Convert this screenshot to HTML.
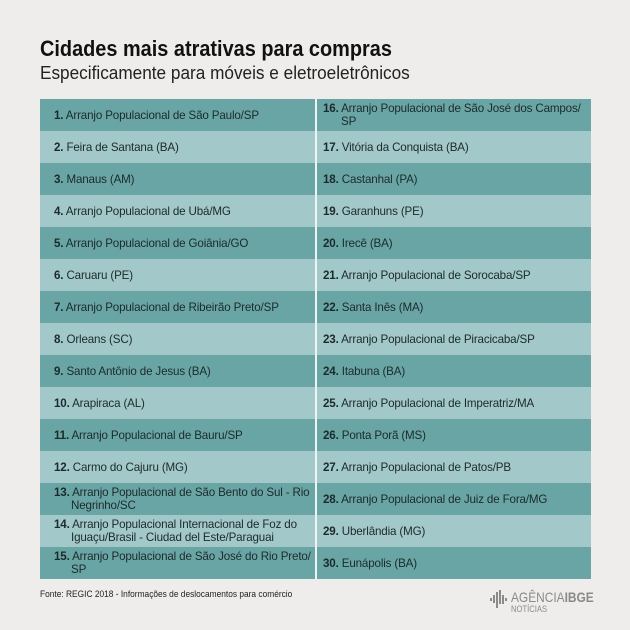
<!DOCTYPE html>
<html><head><meta charset="utf-8"><style>
body{margin:0;width:630px;height:630px;background:#efedeb;font-family:"Liberation Sans",sans-serif;position:relative;overflow:hidden}
.t{position:absolute;left:40px;top:36px;font-weight:bold;font-size:22px;color:#111;transform:scaleX(0.905);transform-origin:0 0;white-space:nowrap}
.s{position:absolute;left:40px;top:63px;font-size:18px;color:#222;transform:scaleX(0.955);transform-origin:0 0;white-space:nowrap}
table{position:absolute;left:40px;top:99px;width:551px;border-collapse:collapse;table-layout:fixed}
td{height:32px;padding:0 0 0 14px;font-size:11.6px;line-height:13px;color:#1b2a2a;box-sizing:border-box;vertical-align:middle;letter-spacing:-0.15px}
td:first-child{width:276px;border-right:2px solid #eef3f3}
td:last-child{padding-left:6px}
tr:nth-child(odd) td{background:#6aa5a6}
tr:nth-child(even) td{background:#a3c8c9}
b{font-weight:bold}
.w{padding-left:17px;text-indent:-17px;display:block}
.w2{padding-left:18px;text-indent:-18px;display:block}
.f{position:absolute;left:40px;top:589px;font-size:9.5px;color:#222;transform:scaleX(0.88);transform-origin:0 0;white-space:nowrap}
.logo{position:absolute;left:490px;top:590px;color:#8a8a8a}
</style></head><body>
<div class="t">Cidades mais atrativas para compras</div>
<div class="s">Especificamente para móveis e eletroeletrônicos</div>
<table>
<tr><td><b>1.</b> Arranjo Populacional de São Paulo/SP</td><td><span class="w2"><b>16.</b> Arranjo Populacional de São José dos Campos/ SP</span></td></tr>
<tr><td><b>2.</b> Feira de Santana (BA)</td><td><b>17.</b> Vitória da Conquista (BA)</td></tr>
<tr><td><b>3.</b> Manaus (AM)</td><td><b>18.</b> Castanhal (PA)</td></tr>
<tr><td><b>4.</b> Arranjo Populacional de Ubá/MG</td><td><b>19.</b> Garanhuns (PE)</td></tr>
<tr><td><b>5.</b> Arranjo Populacional de Goiânia/GO</td><td><b>20.</b> Irecê (BA)</td></tr>
<tr><td><b>6.</b> Caruaru (PE)</td><td><b>21.</b> Arranjo Populacional de Sorocaba/SP</td></tr>
<tr><td><b>7.</b> Arranjo Populacional de Ribeirão Preto/SP</td><td><b>22.</b> Santa Inês (MA)</td></tr>
<tr><td><b>8.</b> Orleans (SC)</td><td><b>23.</b> Arranjo Populacional de Piracicaba/SP</td></tr>
<tr><td><b>9.</b> Santo Antônio de Jesus (BA)</td><td><b>24.</b> Itabuna (BA)</td></tr>
<tr><td><b>10.</b> Arapiraca (AL)</td><td><b>25.</b> Arranjo Populacional de Imperatriz/MA</td></tr>
<tr><td><b>11.</b> Arranjo Populacional de Bauru/SP</td><td><b>26.</b> Ponta Porã (MS)</td></tr>
<tr><td><b>12.</b> Carmo do Cajuru (MG)</td><td><b>27.</b> Arranjo Populacional de Patos/PB</td></tr>
<tr><td><span class="w"><b>13.</b> Arranjo Populacional de São Bento do Sul - Rio<br>Negrinho/SC</span></td><td><b>28.</b> Arranjo Populacional de Juiz de Fora/MG</td></tr>
<tr><td><span class="w"><b>14.</b> Arranjo Populacional Internacional de Foz do<br>Iguaçu/Brasil - Ciudad del Este/Paraguai</span></td><td><b>29.</b> Uberlândia (MG)</td></tr>
<tr><td><span class="w"><b>15.</b> Arranjo Populacional de São José do Rio Preto/<br>SP</span></td><td><b>30.</b> Eunápolis (BA)</td></tr>
</table>
<div class="f">Fonte: REGIC 2018 - Informações de deslocamentos para comércio</div>
<div class="logo">
<svg width="18" height="20" style="position:absolute;left:0;top:0"><g fill="#8a8a8a"><rect x="0" y="8" width="2" height="3"/><rect x="3" y="5" width="2" height="8"/><rect x="6" y="2" width="2" height="16"/><rect x="9" y="0" width="2" height="14"/><rect x="12" y="5" width="2" height="9"/><rect x="15" y="8" width="2" height="3"/></g></svg>
<div style="position:absolute;left:21px;top:-1px;font-size:14px;white-space:nowrap;transform:scaleX(0.85);transform-origin:0 0">AGÊNCIA<b>IBGE</b></div>
<div style="position:absolute;left:21px;top:14px;font-size:9px;transform:scaleX(0.85);transform-origin:0 0">NOTÍCIAS</div>
</div>
</body></html>
